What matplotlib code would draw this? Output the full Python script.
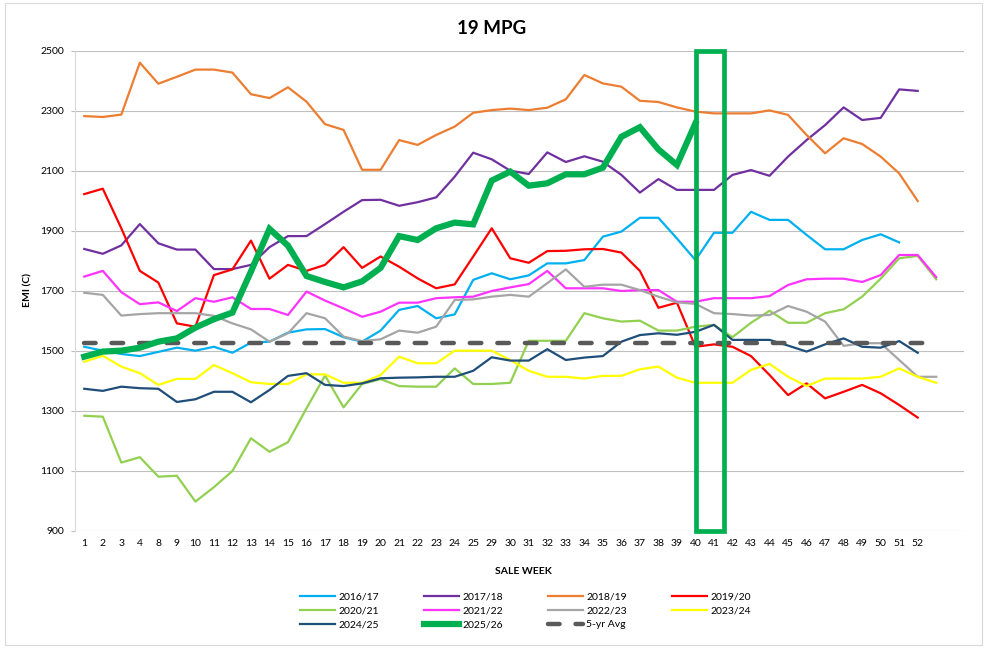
import matplotlib
matplotlib.use("Agg")
import matplotlib.pyplot as plt
from matplotlib.patches import Rectangle

plt.rcParams['font.family'] = ['Lato', 'DejaVu Sans']

# sale weeks on the category axis (two blank slots at the end, as in the sheet)
weeks = ['1', '2', '3', '4'] + [str(w) for w in range(8, 26)] + [str(w) for w in range(29, 53)] + ['', '']

s2016 = [1514, 1501, 1490, 1483, 1497, 1511, 1501, 1514, 1494, 1528, 1531, 1561, 1572, 1573, 1546, 1531, 1568,
         1637, 1650, 1609, 1622, 1737, 1759, 1739, 1752, 1792, 1792, 1803, 1881, 1898, 1944, 1944, 1875,
         1803, 1894, 1894, 1964, 1937, 1937, 1887, 1839, 1839, 1870, 1889, 1862]
s2017 = [1840, 1824, 1852, 1923, 1859, 1838, 1838, 1773, 1773, 1787, 1846, 1883, 1883, 1923, 1964, 2003, 2004,
         1984, 1996, 2012, 2081, 2161, 2139, 2101, 2090, 2162, 2130, 2149, 2131, 2087, 2028, 2073, 2037,
         2037, 2037, 2087, 2103, 2084, 2148, 2203, 2253, 2312, 2270, 2277, 2372, 2367]
s2018 = [2283, 2280, 2288, 2461, 2391, 2414, 2438, 2438, 2428, 2356, 2343, 2379, 2331, 2256, 2237, 2104, 2104,
         2203, 2187, 2220, 2248, 2294, 2303, 2308, 2303, 2311, 2339, 2420, 2392, 2381, 2334, 2330, 2312,
         2298, 2292, 2292, 2292, 2302, 2287, 2220, 2159, 2209, 2190, 2148, 2092, 2000]
s2019 = [2023, 2041, 1909, 1767, 1728, 1592, 1581, 1753, 1772, 1868, 1741, 1787, 1767, 1787, 1846, 1777, 1815,
         1781, 1742, 1709, 1722, 1815, 1909, 1809, 1794, 1833, 1834, 1839, 1840, 1828, 1767, 1644, 1661,
         1514, 1522, 1514, 1483, 1420, 1353, 1392, 1342, 1364, 1387, 1359, 1320, 1278]
s2020 = [1284, 1281, 1128, 1146, 1081, 1084, 998, 1046, 1100, 1209, 1164, 1196, 1309, 1418, 1312, 1390, 1406,
         1383, 1381, 1381, 1442, 1390, 1390, 1394, 1534, 1534, 1534, 1626, 1609, 1598, 1601, 1568, 1568,
         1581, 1587, 1546, 1594, 1634, 1594, 1594, 1626, 1639, 1681, 1741, 1809, 1817, 1739]
s2021 = [1748, 1767, 1696, 1656, 1662, 1633, 1676, 1664, 1679, 1640, 1640, 1620, 1698, 1668, 1642, 1614, 1631,
         1661, 1661, 1676, 1679, 1681, 1700, 1712, 1723, 1767, 1709, 1709, 1709, 1700, 1703, 1703, 1664,
         1664, 1676, 1676, 1676, 1683, 1720, 1739, 1741, 1741, 1730, 1753, 1820, 1820, 1746]
s2022 = [1694, 1687, 1618, 1623, 1626, 1626, 1626, 1617, 1592, 1572, 1531, 1559, 1626, 1609, 1548, 1533, 1539,
         1568, 1561, 1581, 1670, 1672, 1681, 1687, 1681, 1726, 1772, 1714, 1721, 1721, 1703, 1681, 1662,
         1657, 1626, 1623, 1618, 1620, 1650, 1631, 1598, 1517, 1526, 1526, 1470, 1414, 1414]
s2023 = [1464, 1484, 1448, 1426, 1387, 1407, 1407, 1453, 1426, 1396, 1390, 1390, 1422, 1422, 1394, 1394, 1420,
         1481, 1459, 1459, 1501, 1501, 1501, 1470, 1434, 1414, 1414, 1408, 1417, 1417, 1439, 1448, 1411,
         1394, 1394, 1394, 1437, 1457, 1414, 1383, 1408, 1408, 1408, 1414, 1442, 1414, 1394]
s2024 = [1374, 1367, 1381, 1376, 1374, 1330, 1339, 1364, 1364, 1329, 1370, 1417, 1426, 1387, 1383, 1392, 1409,
         1411, 1412, 1414, 1414, 1434, 1479, 1468, 1468, 1506, 1470, 1478, 1483, 1531, 1553, 1559, 1554,
         1564, 1587, 1537, 1537, 1537, 1518, 1498, 1522, 1542, 1514, 1511, 1533, 1494]
s2025 = [1481, 1498, 1501, 1511, 1531, 1542, 1578, 1606, 1628, 1765, 1907, 1851, 1750, 1730, 1712, 1732, 1777,
         1883, 1870, 1909, 1928, 1922, 2068, 2098, 2051, 2059, 2089, 2089, 2111, 2214, 2246, 2172, 2120, 2259]
avg5 = [1525, 1525, 1525, 1525, 1525, 1525, 1525, 1525, 1525, 1525, 1525, 1525, 1525, 1525, 1525, 1525, 1525,
        1525, 1525, 1525, 1525, 1525, 1525, 1525, 1525, 1525, 1525, 1525, 1525, 1525, 1525, 1525, 1525,
        1525, 1525, 1525, 1525, 1525, 1525, 1525, 1525, 1525, 1525, 1525, 1525, 1525, 1525]

series = [
    ('2016/17', s2016, '#00B0F0'),
    ('2017/18', s2017, '#7030A0'),
    ('2018/19', s2018, '#ED7D31'),
    ('2019/20', s2019, '#FF0000'),
    ('2020/21', s2020, '#92D050'),
    ('2021/22', s2021, '#FF33FF'),
    ('2022/23', s2022, '#A5A5A5'),
    ('2023/24', s2023, '#FFFF00'),
    ('2024/25', s2024, '#1F4E79'),
]

fig = plt.figure(figsize=(9.87, 6.48), dpi=100)
ax = fig.add_axes([0.0760, 0.1806, 0.9007, 0.7407])

handles = []
for name, vals, col in series:
    h, = ax.plot(range(len(vals)), vals, color=col, lw=1.6, label=name, zorder=2)
    handles.append(h)

h_avg, = ax.plot(range(len(avg5)), avg5, color='#595959', lw=3.2, dashes=(2.6, 3.6),
                 dash_capstyle='round', label='5-yr Avg', zorder=3)
h_new, = ax.plot(range(len(s2025)), s2025, color='#00B050', lw=4.5, label='2025/26',
                 solid_joinstyle='miter', zorder=4)

# highlight box around the current weeks
ax.add_patch(Rectangle((33.05, 900), 1.47, 1600, fill=False, edgecolor='#00B050',
                       lw=3.4, joinstyle='miter', clip_on=False, zorder=5))

ax.set_xlim(-0.5, len(weeks) - 0.5)
ax.set_ylim(900, 2500)
ax.set_yticks(range(900, 2501, 200))
ax.set_xticks(range(len(weeks)))
ax.set_xticklabels(weeks)
ax.tick_params(axis='x', length=0, pad=6, labelsize=7.5)
ax.tick_params(axis='y', length=3, pad=5, labelsize=7.5, color='#BFBFBF')
ax.grid(axis='y', color='#BFBFBF', lw=0.8)
ax.set_axisbelow(True)
for sp in ['top', 'right', 'bottom']:
    ax.spines[sp].set_visible(False)
ax.spines['left'].set_color('#D9D9D9')

fig.text(0.498, 1 - 29 / 648, '19 MPG', ha='center', va='center', fontsize=13.5, fontweight='bold')
fig.text(523 / 987, 1 - 571 / 648, 'SALE WEEK', ha='center', va='center', fontsize=7.5, fontweight='bold')
fig.text(28 / 987, 1 - 290 / 648, 'EMI (C)', ha='center', va='center', rotation=90,
         fontsize=7.5, fontweight='bold')

all_h = handles + [h_new, h_avg]
order = [0, 4, 8, 1, 5, 9, 2, 6, 10, 3, 7]
fig.legend([all_h[i] for i in order], [all_h[i].get_label() for i in order],
           ncol=4, loc='upper left', bbox_to_anchor=(300 / 987, 1 - 592 / 648),
           frameon=False, fontsize=7.5, handlelength=3.4, handletextpad=0.3,
           columnspacing=4.3, labelspacing=0.45, borderpad=0, borderaxespad=0)

# light chart border
fig.patches.append(Rectangle((5 / 987, 3 / 648), 977 / 987, 642 / 648, transform=fig.transFigure,
                             fill=False, edgecolor='#D9D9D9', lw=0.8))

fig.savefig('out.png', dpi=100)
